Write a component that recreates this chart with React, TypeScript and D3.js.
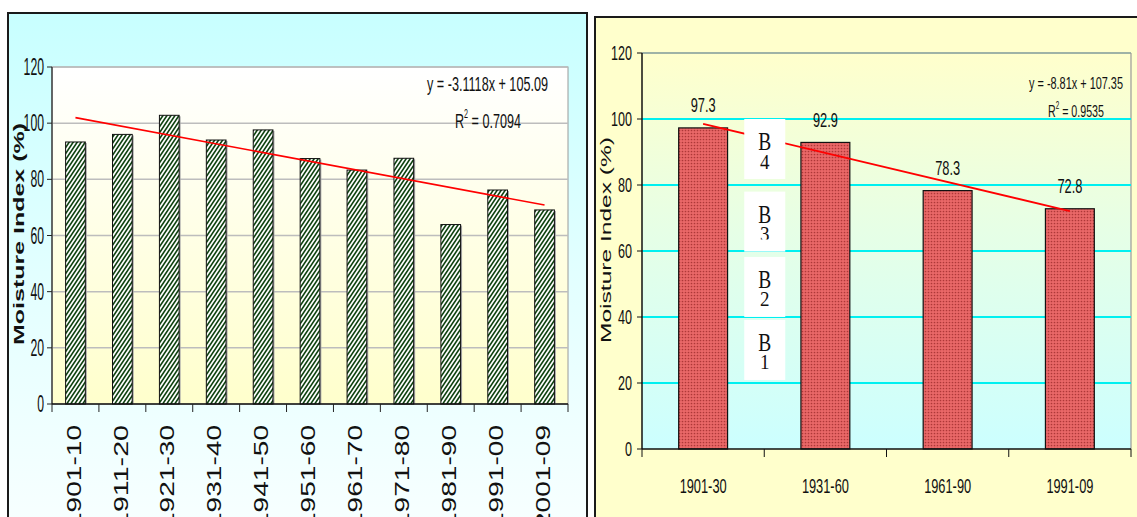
import React from 'react';
import * as d3 from 'd3';

// ---------- data ----------
const leftCategories = ['1901-10', '1911-20', '1921-30', '1931-40', '1941-50', '1951-60', '1961-70', '1971-80', '1981-90', '1991-00', '2001-09'];
const leftValues = [93.3, 96.0, 102.8, 94.0, 97.6, 87.4, 83.3, 87.5, 63.9, 76.2, 69.1];
const leftSlope = -3.1118;
const leftIntercept = 105.09;
const leftEquation = 'y = -3.1118x + 105.09';
const leftR2 = '0.7094';

const rightCategories = ['1901-30', '1931-60', '1961-90', '1991-09'];
const rightValues = [97.3, 92.9, 78.3, 72.8];
const rightSlope = -8.81;
const rightIntercept = 107.35;
const rightEquation = 'y = -8.81x + 107.35';
const rightR2 = '0.9535';

const yTicks = [0, 20, 40, 60, 80, 100, 120];
const zoneNames = ['4', '3', '2', '1'];
const zoneTops = [100, 78, 58.2, 39.1];

const yTitle = 'Moisture Index (%)';
const SANS = 'Liberation Sans, Arial, sans-serif';
const SERIF = 'Liberation Serif, Times New Roman, serif';

export default function App() {
  // left chart scales
  const xL = d3.scaleBand<string>().domain(leftCategories).range([52, 568]).paddingInner(0.58).paddingOuter(0.29);
  const yL = d3.scaleLinear().domain([0, 120]).range([404, 67]);
  const stepL = xL.step();
  const bwL = xL.bandwidth();
  const boundL = leftCategories.map((c) => (xL(c) as number) - stepL * 0.29).concat([568]);

  // right chart scales
  const xR = d3.scaleBand<string>().domain(rightCategories).range([642, 1131]).paddingInner(0.6).paddingOuter(0.3);
  const yR = d3.scaleLinear().domain([0, 120]).range([449, 53]);
  const stepR = xR.step();
  const bwR = xR.bandwidth();
  const boundR = rightCategories.map((c) => (xR(c) as number) - stepR * 0.3).concat([1131]);

  const lineGen = d3.line<[number, number]>().x((d) => d[0]).y((d) => d[1]);
  const trendL: [number, number][] = [1, leftCategories.length].map((i) => [
    (xL(leftCategories[i - 1]) as number) + bwL / 2,
    yL(leftIntercept + leftSlope * i),
  ]);
  const trendR: [number, number][] = [1, rightCategories.length].map((i) => [
    (xR(rightCategories[i - 1]) as number) + bwR / 2,
    yR(rightIntercept + rightSlope * i),
  ]);

  const zoneX = boundR[1] - 20;

  return (
    <svg width={1137} height={517} style={{ position: 'absolute', left: 0, top: 0, background: '#fff' }}>
      <defs>
        <linearGradient id="panelL" x1="0" y1="0" x2="0" y2="1">
          <stop offset="0" stopColor="#C8FFFF" />
          <stop offset="0.5" stopColor="#E2FFFF" />
          <stop offset="1" stopColor="#F8FFFF" />
        </linearGradient>
        <linearGradient id="plotL" x1="0" y1="0" x2="0" y2="1">
          <stop offset="0" stopColor="#FFFFFF" />
          <stop offset="1" stopColor="#FFFFCC" />
        </linearGradient>
        <linearGradient id="plotR" x1="0" y1="0" x2="0" y2="1">
          <stop offset="0" stopColor="#FFFFCC" />
          <stop offset="0.45" stopColor="#E6FFE6" />
          <stop offset="1" stopColor="#CCFFFF" />
        </linearGradient>
        <pattern id="hatch" patternUnits="userSpaceOnUse" width="4" height="6">
          <rect width="4" height="6" fill="#FFFFFF" />
          <path d="M0,6 L4,0 M-1,1.5 L1,-1.5 M3,7.5 L5,4.5" stroke="#0E420F" strokeWidth="1.6" />
        </pattern>
        <pattern id="dots" patternUnits="userSpaceOnUse" width="3" height="3">
          <rect width="3" height="3" fill="#EA6868" />
          <circle cx="1.5" cy="1.5" r="0.85" fill="#AE3838" />
        </pattern>
        <clipPath id="clipB3">
          <rect x={0} y={0} width={1137} height={yR(zoneTops[1]) + 48} />
        </clipPath>
      </defs>

      {/* ---------------- LEFT PANEL ---------------- */}
      <rect x={8} y={13} width={579} height={520} fill="url(#panelL)" stroke="#1a1a1a" strokeWidth={2} />
      <rect x={52} y={67} width={516} height={337} fill="url(#plotL)" stroke="#9a9a9a" strokeWidth={1} />
      {yTicks.filter((t) => t > 0).map((t) => (
        <line key={'gl' + t} x1={52} x2={568} y1={yL(t)} y2={yL(t)} stroke="#BDBDBD" strokeWidth={1.5} />
      ))}
      {leftCategories.map((c, i) => (
        <g key={'bl' + c}>
          <rect x={(xL(c) as number) + 1.5} y={yL(leftValues[i]) + 1} width={bwL} height={yL(0) - yL(leftValues[i]) - 1} fill="#A8A8A8" />
          <rect x={xL(c) as number} y={yL(leftValues[i])} width={bwL} height={yL(0) - yL(leftValues[i])} fill="url(#hatch)" stroke="#111" strokeWidth={1} />
        </g>
      ))}
      <path d={lineGen(trendL) as string} stroke="#FF0000" strokeWidth={1.6} fill="none" />
      {/* axes */}
      <line x1={52} x2={52} y1={67} y2={404} stroke="#222" strokeWidth={1.2} />
      <line x1={52} x2={568} y1={404} y2={404} stroke="#111" strokeWidth={1.6} />
      {yTicks.map((t) => (
        <g key={'tl' + t}>
          <line x1={47} x2={52} y1={yL(t)} y2={yL(t)} stroke="#222" strokeWidth={1} />
          <text x={44} y={yL(t) + 8} fontFamily={SANS} fontSize={24} textAnchor="end" textLength={String(t).length * 6.8} lengthAdjust="spacingAndGlyphs" fill="#111">{t}</text>
        </g>
      ))}
      {boundL.map((b, i) => (
        <line key={'xt' + i} x1={b} x2={b} y1={404} y2={412} stroke="#222" strokeWidth={1} />
      ))}
      {leftCategories.map((c) => (
        <text key={'xl' + c} transform={`translate(${(xL(c) as number) + bwL / 2 - 2},425) rotate(-90)`} dy="0.36em" fontFamily={SANS} fontSize={20} textAnchor="end" textLength={103} lengthAdjust="spacingAndGlyphs" fill="#111">{c}</text>
      ))}
      <text transform="translate(18.5,234) rotate(-90)" dy="0.36em" fontFamily={SANS} fontWeight="bold" fontSize={15} textAnchor="middle" textLength={222} lengthAdjust="spacingAndGlyphs" fill="#111">{yTitle}</text>
      <text x={548} y={90.5} fontFamily={SANS} fontSize={20} textAnchor="end" textLength={121} lengthAdjust="spacingAndGlyphs" fill="#111">{leftEquation}</text>
      <text x={521} y={127.5} fontFamily={SANS} fontSize={21} textAnchor="end" textLength={66} lengthAdjust="spacingAndGlyphs" fill="#111">
        R<tspan fontSize={12} dy={-10}>2</tspan><tspan dy={10}>{' = ' + leftR2}</tspan>
      </text>

      {/* ---------------- RIGHT PANEL ---------------- */}
      <rect x={595} y={17} width={560} height={520} fill="#FFFFCC" stroke="#1a1a1a" strokeWidth={2} />
      <rect x={642} y={53} width={489} height={396} fill="url(#plotR)" />
      <line x1={642} x2={1131} y1={53} y2={53} stroke="#7F9A9A" strokeWidth={1.5} />
      <line x1={1131} x2={1131} y1={53} y2={449} stroke="#9a9a9a" strokeWidth={1.2} />
      {yTicks.filter((t) => t > 0 && t < 120).map((t) => (
        <line key={'gr' + t} x1={642} x2={1131} y1={yR(t)} y2={yR(t)} stroke="#00F0F0" strokeWidth={2} />
      ))}
      {rightCategories.map((c, i) => (
        <rect key={'br' + c} x={xR(c) as number} y={yR(rightValues[i])} width={bwR} height={yR(0) - yR(rightValues[i])} fill="url(#dots)" stroke="#111" strokeWidth={1.2} />
      ))}
      <path d={lineGen(trendR) as string} stroke="#FF0000" strokeWidth={1.8} fill="none" />
      {rightCategories.map((c, i) => (
        <text key={'vl' + c} x={(xR(c) as number) + bwR / 2} y={yR(rightValues[i]) - 15.5} fontFamily={SANS} fontSize={21} textAnchor="middle" textLength={25} lengthAdjust="spacingAndGlyphs" fill="#111">{rightValues[i].toFixed(1)}</text>
      ))}
      {/* zone boxes */}
      {zoneNames.map((z, i) => {
        const top = yR(zoneTops[i]);
        return (
          <g key={'z' + z}>
            <rect x={zoneX} y={top} width={41} height={60} fill="#FFFFFF" />
            <text x={zoneX + 20.5} y={top + 31} fontFamily={SERIF} fontSize={25} textAnchor="middle" textLength={13} lengthAdjust="spacingAndGlyphs" fill="#111">B</text>
            <text x={zoneX + 20.5} y={top + 49.5} fontFamily={SERIF} fontSize={22} textAnchor="middle" textLength={9.5} lengthAdjust="spacingAndGlyphs" fill="#111" clipPath={z === '3' ? 'url(#clipB3)' : undefined}>{z}</text>
          </g>
        );
      })}
      {/* axes */}
      <line x1={642} x2={642} y1={53} y2={449} stroke="#111" strokeWidth={1.5} />
      <line x1={642} x2={1131} y1={449} y2={449} stroke="#111" strokeWidth={1.5} />
      {yTicks.map((t) => (
        <g key={'tr' + t}>
          <line x1={637} x2={642} y1={yR(t)} y2={yR(t)} stroke="#111" strokeWidth={1} />
          <text x={632} y={yR(t) + 7} fontFamily={SANS} fontSize={19.5} textAnchor="end" textLength={String(t).length * 7} lengthAdjust="spacingAndGlyphs" fill="#111">{t}</text>
        </g>
      ))}
      {boundR.map((b, i) => (
        <line key={'xr' + i} x1={b} x2={b} y1={449} y2={457} stroke="#111" strokeWidth={1} />
      ))}
      {rightCategories.map((c) => (
        <text key={'xrl' + c} x={(xR(c) as number) + bwR / 2} y={493} fontFamily={SANS} fontSize={20} textAnchor="middle" textLength={47} lengthAdjust="spacingAndGlyphs" fill="#111">{c}</text>
      ))}
      <text transform="translate(606,240) rotate(-90)" dy="0.36em" fontFamily={SANS} fontSize={15} textAnchor="middle" textLength={206} lengthAdjust="spacingAndGlyphs" fill="#111">{yTitle}</text>
      <text x={1123} y={88.5} fontFamily={SANS} fontSize={16} textAnchor="end" textLength={94} lengthAdjust="spacingAndGlyphs" fill="#111">{rightEquation}</text>
      <text x={1104} y={117} fontFamily={SANS} fontSize={17} textAnchor="end" textLength={56} lengthAdjust="spacingAndGlyphs" fill="#111">
        R<tspan fontSize={10} dy={-8}>2</tspan><tspan dy={8}>{' = ' + rightR2}</tspan>
      </text>
    </svg>
  );
}
